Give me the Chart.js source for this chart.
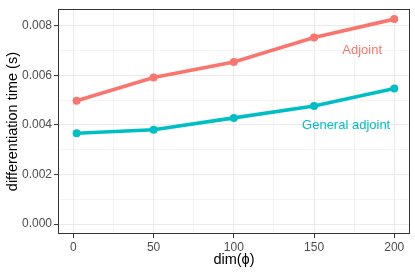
<!DOCTYPE html>
<html>
<head>
<meta charset="utf-8">
<script src="https://cdn.jsdelivr.net/npm/chart.js@4"></script>
<style>
  html, body { margin: 0; padding: 0; background: #fff; }
  #wrap { width: 415px; height: 277px; }
</style>
</head>
<body>
<div id="wrap"><canvas id="chart" width="415" height="277"></canvas></div>
<script>
// ---- data ----
const dims = [2, 50, 100, 150, 200];
const adjoint = [0.00497, 0.00591, 0.00653, 0.00752, 0.00826];
const generalAdjoint = [0.00366, 0.00380, 0.00428, 0.00476, 0.00546];

const xTicks = [0, 25, 50, 75, 100, 125, 150, 175, 200];
const yTicks = [0, 0.001, 0.002, 0.003, 0.004, 0.005, 0.006, 0.007, 0.008];

const labelText = ['Adjoint', 'General adjoint'];
const labelX = [180, 170];
const labelY = [0.00701, 0.00398];
const seriesColors = ['#F8766D', '#00BFC4'];

const FONT = "'Liberation Sans', Arial, Helvetica, sans-serif";

const isMajorX = v => v % 50 === 0;
const isMajorY = v => Math.abs(Math.round(v / 0.002) * 0.002 - v) < 1e-9;

// panel border + direct line labels
const panelPlugin = {
    id: 'panel',
    afterDatasetsDraw(chart) {
        const { ctx, chartArea: a, scales } = chart;
        ctx.save();
        ctx.font = '13px ' + FONT;
        ctx.textAlign = 'center';
        ctx.textBaseline = 'middle';
        labelText.forEach((t, i) => {
            ctx.fillStyle = seriesColors[i];
            ctx.fillText(t, scales.x.getPixelForValue(labelX[i]), scales.y.getPixelForValue(labelY[i]));
        });
        ctx.strokeStyle = '#333333';
        ctx.lineWidth = 1;
        ctx.strokeRect(Math.round(a.left) + 0.5, Math.round(a.top) + 0.5,
            Math.round(a.right - a.left) - 1, Math.round(a.bottom - a.top) - 1);
        ctx.restore();
    }
};

const toPoints = ys => dims.map((x, i) => ({ x, y: ys[i] }));

new Chart(document.getElementById('chart'), {
    type: 'line',
    data: {
        datasets: [
            {
                label: 'Adjoint',
                data: toPoints(adjoint),
                borderColor: seriesColors[0],
                backgroundColor: seriesColors[0],
                borderWidth: 3.6,
                pointRadius: 4,
                pointBorderWidth: 0,
                tension: 0
            },
            {
                label: 'General adjoint',
                data: toPoints(generalAdjoint),
                borderColor: seriesColors[1],
                backgroundColor: seriesColors[1],
                borderWidth: 3.6,
                pointRadius: 4,
                pointBorderWidth: 0,
                tension: 0
            }
        ]
    },
    options: {
        responsive: false,
        animation: false,
        layout: { padding: { top: 5, right: 5, left: 0, bottom: 8 } },
        plugins: { legend: { display: false }, tooltip: { enabled: false } },
        scales: {
            x: {
                type: 'linear',
                min: -9.6,
                max: 209.8,
                afterBuildTicks: s => { s.ticks = xTicks.map(v => ({ value: v })); },
                afterFit: s => { s.height = 35; },
                grid: {
                    color: '#EBEBEB',
                    lineWidth: c => isMajorX(c.tick.value) ? 1.1 : 0.55,
                    tickColor: c => isMajorX(c.tick.value) ? '#333333' : 'rgba(0,0,0,0)',
                    tickWidth: 1,
                    tickLength: 4
                },
                border: { display: false },
                ticks: {
                    autoSkip: false,
                    maxRotation: 0,
                    padding: 2,
                    color: '#4D4D4D',
                    font: { family: FONT, size: 12 },
                    callback: v => isMajorX(v) ? String(v) : ''
                },
                title: {
                    display: true,
                    text: 'dim(\u03D5)',
                    color: '#000',
                    font: { family: FONT, size: 14.5 },
                    padding: { top: 1, bottom: 0 }
                }
            },
            y: {
                type: 'linear',
                min: -0.0004,
                max: 0.00866,
                afterBuildTicks: s => { s.ticks = yTicks.map(v => ({ value: v })); },
                afterFit: s => { s.width = 58; },
                grid: {
                    color: '#EBEBEB',
                    lineWidth: c => isMajorY(c.tick.value) ? 1.1 : 0.55,
                    tickColor: c => isMajorY(c.tick.value) ? '#333333' : 'rgba(0,0,0,0)',
                    tickWidth: 1,
                    tickLength: 4
                },
                border: { display: false },
                ticks: {
                    autoSkip: false,
                    padding: 2,
                    color: '#4D4D4D',
                    font: { family: FONT, size: 12 },
                    callback: v => isMajorY(v) ? v.toFixed(3) : ''
                },
                title: {
                    display: true,
                    text: 'differentiation time (s)',
                    color: '#000',
                    font: { family: FONT, size: 14.5 },
                    padding: { top: 4, bottom: 0 }
                }
            }
        }
    },
    plugins: [panelPlugin]
});
</script>
</body>
</html>
